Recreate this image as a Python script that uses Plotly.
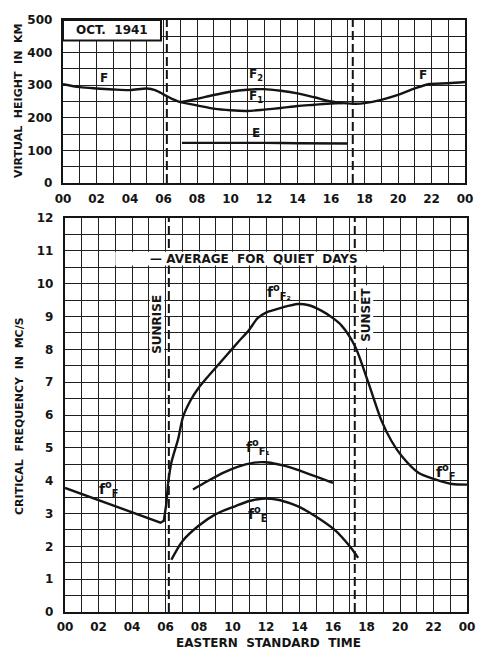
import plotly.graph_objects as go

# ---------------- data ----------------
hour_ticks = list(range(0, 25, 2))
hour_labels = ["00", "02", "04", "06", "08", "10", "12", "14", "16", "18", "20", "22", "00"]
km_ticks = list(range(0, 501, 100))
km_labels = ["0", "100", "200", "300", "400", "500"]
mc_ticks = list(range(0, 13))
mc_labels = [str(v) for v in mc_ticks]

sunrise = 6.2
sunset = 17.3

# virtual heights (km)
f_night_h = [0, 1, 2, 3, 4, 5, 5.5, 6, 6.5, 7]
f_night_km = [303, 294, 290, 287, 285, 290, 285, 272, 258, 248]
f2_h = [7, 8, 9, 10, 11, 12, 13, 14, 15, 16, 16.7]
f2_km = [248, 258, 270, 280, 286, 288, 283, 275, 263, 250, 245]
f1_h = [7, 8, 9, 10, 11, 12, 13, 14, 15, 16, 16.7]
f1_km = [248, 238, 228, 223, 221, 225, 230, 236, 240, 244, 245]
f_eve_h = [16.7, 17.5, 18, 19, 20, 21, 21.8, 23, 24]
f_eve_km = [245, 243, 245, 255, 270, 290, 303, 306, 310]
e_h = [7.1, 10, 12, 14, 17]
e_km = [123, 123, 123, 122, 121]

# critical frequencies (Mc/s)
fof_night_h = [0, 2, 4, 5.7, 5.9, 6.05, 6.15]
fof_night_mc = [3.78, 3.41, 3.04, 2.72, 2.78, 3.3, 3.9]
fof2_h = [6.15, 6.35, 6.75, 7.05, 7.5, 7.94, 8.5, 9.1, 9.7, 10.3, 11, 11.5, 12, 12.5,
          13, 13.9, 14.5, 15.3, 16, 16.5, 17.3, 18.1, 18.9, 19.5, 20.1, 21.1, 22.1, 23.1, 24]
fof2_mc = [3.9, 4.55, 5.26, 5.95, 6.45, 6.8, 7.15, 7.5, 7.85, 8.2, 8.6, 8.95, 9.12, 9.2,
           9.28, 9.38, 9.35, 9.18, 8.95, 8.73, 8.11, 7.0, 5.82, 5.2, 4.75, 4.24, 4.04, 3.9, 3.88]
fof1_h = [7.64, 8.5, 9.5, 10.3, 11.3, 12, 12.7, 13.5, 14.1, 15, 16]
fof1_mc = [3.73, 3.98, 4.25, 4.42, 4.55, 4.56, 4.5, 4.4, 4.29, 4.12, 3.93]
foe_h = [6.35, 7, 7.94, 9, 10.15, 11, 11.75, 12.7, 13.5, 14.1, 15, 16.1, 17, 17.5]
foe_mc = [1.59, 2.15, 2.61, 2.98, 3.22, 3.38, 3.45, 3.42, 3.3, 3.17, 2.9, 2.5, 2.0, 1.65]

# ---------------- figure ----------------
W, H = 477, 652
INK = "#141414"
FONT = "DejaVu Sans"


def px(x):
    return x / W


def py(y):
    return 1 - y / H


fig = go.Figure()

line_style = dict(color=INK, width=2.4, shape="spline", smoothing=0.8)

for xs, ys in [(f_night_h, f_night_km), (f2_h, f2_km), (f1_h, f1_km),
               (f_eve_h, f_eve_km), (e_h, e_km)]:
    fig.add_trace(go.Scatter(x=xs, y=ys, mode="lines", line=line_style,
                             xaxis="x", yaxis="y", showlegend=False, hoverinfo="skip"))

fig.add_trace(go.Scatter(x=fof_night_h, y=fof_night_mc, mode="lines",
                         line=dict(color=INK, width=2.4, shape="linear"),
                         xaxis="x2", yaxis="y2", showlegend=False, hoverinfo="skip"))
for xs, ys in [(fof2_h, fof2_mc), (fof1_h, fof1_mc), (foe_h, foe_mc)]:
    fig.add_trace(go.Scatter(x=xs, y=ys, mode="lines", line=line_style,
                             xaxis="x2", yaxis="y2", showlegend=False, hoverinfo="skip"))

tickfont = dict(family=FONT, size=12, color=INK, weight="bold")
GRID_C = "#202020"
grid = dict(showgrid=True, gridcolor=GRID_C, gridwidth=1.2, zeroline=False,
            showline=True, linecolor=INK, linewidth=2.4, mirror=True, ticks="",
            tickfont=tickfont, fixedrange=True, automargin=False)


def minor(step):
    return dict(tickmode="linear", tick0=0, dtick=step, showgrid=True,
                gridcolor=GRID_C, gridwidth=1.2, ticks="")


fig.update_layout(
    template="none",
    width=W, height=H, margin=dict(l=0, r=0, t=0, b=0, autoexpand=False),
    paper_bgcolor="white", plot_bgcolor="white", showlegend=False,
    font=dict(family=FONT, color=INK),
    xaxis=dict(domain=[px(63), px(465)], range=[0, 24], anchor="y",
               tickmode="array", tickvals=hour_ticks, ticktext=hour_labels,
               ticklabelstandoff=3, minor=minor(1), **grid),
    yaxis=dict(domain=[py(183), py(20)], range=[0, 500], anchor="x",
               tickmode="array", tickvals=km_ticks, ticktext=km_labels,
               ticklabelstandoff=6, minor=minor(50), **grid),
    xaxis2=dict(domain=[px(65), px(467)], range=[0, 24], anchor="y2",
                tickmode="array", tickvals=hour_ticks, ticktext=hour_labels,
                ticklabelstandoff=2, minor=minor(1), **grid),
    yaxis2=dict(domain=[py(612), py(218)], range=[0, 12], anchor="x2",
                tickmode="array", tickvals=mc_ticks, ticktext=mc_labels,
                ticklabelstandoff=7, minor=minor(0.5), **grid),
)

shapes = []
# sunrise / sunset markers
for xr, yr, top in [("x", "y", 500), ("x2", "y2", 12)]:
    for t in (sunrise, sunset):
        shapes.append(dict(type="line", xref=xr, yref=yr, x0=t, x1=t, y0=0, y1=top,
                           line=dict(color=INK, width=2, dash="9px,4px"), layer="above"))
# white label boxes
shapes.append(dict(type="rect", xref="x", yref="y", x0=0, x1=5.85, y0=437, y1=500,
                   fillcolor="white", line=dict(color=INK, width=2), layer="above"))
shapes.append(dict(type="rect", xref="x2", yref="y2", x0=3.0, x1=19.2, y0=10.55, y1=10.97,
                   fillcolor="white", line=dict(width=0), layer="above"))
shapes.append(dict(type="rect", xref="x2", yref="y2", x0=5.08, x1=5.92, y0=7.55, y1=9.95,
                   fillcolor="white", line=dict(width=0), layer="above"))
shapes.append(dict(type="rect", xref="x2", yref="y2", x0=17.55, x1=18.4, y0=8.05, y1=9.95,
                   fillcolor="white", line=dict(width=0), layer="above"))
fig.update_layout(shapes=shapes)

lab = dict(family=FONT, size=12, color=INK, weight="bold")
big = dict(family=FONT, size=14, color=INK, weight="bold")
ann = []


def note(text, x, y, xr, yr, font=lab, angle=0, anchor="center"):
    ann.append(dict(text=text, x=x, y=y, xref=xr, yref=yr, showarrow=False,
                    font=font, textangle=angle, xanchor=anchor, yanchor="middle"))


note("OCT.  1941", 2.9, 470, "x", "y", font=dict(family=FONT, size=12, color=INK, weight="bold"))
note("F", 2.45, 322, "x", "y")
note("F<sub>2</sub>", 11.5, 331, "x", "y")
note("F<sub>1</sub>", 11.55, 264, "x", "y")
note("E", 11.5, 153, "x", "y")
note("F", 21.5, 331, "x", "y")

note("— AVERAGE  FOR  QUIET  DAYS", 11.3, 10.75, "x2", "y2")
note("SUNRISE", 5.5, 8.75, "x2", "y2", angle=-90)
note("SUNSET", 17.97, 9.05, "x2", "y2", angle=-90)
note("f<sup>o</sup><sub>F₂</sub>", 12.8, 9.75, "x2", "y2", font=big)
note("f<sup>o</sup><sub>F₁</sub>", 11.5, 5.03, "x2", "y2", font=big)
note("f<sup>o</sup><sub>E</sub>", 11.5, 2.98, "x2", "y2", font=big)
note("f<sup>o</sup><sub>F</sub>", 2.6, 3.75, "x2", "y2", font=big)
note("f<sup>o</sup><sub>F</sub>", 22.75, 4.26, "x2", "y2", font=big)

note("VIRTUAL  HEIGHT  IN  KM", px(18), py(101), "paper", "paper",
     font=dict(family=FONT, size=11, color=INK, weight="bold"), angle=-90)
note("CRITICAL  FREQUENCY  IN  MC/S", px(19), py(416), "paper", "paper",
     font=dict(family=FONT, size=11, color=INK, weight="bold"), angle=-90)
note("EASTERN  STANDARD  TIME", px(268), py(643), "paper", "paper",
     font=dict(family=FONT, size=12, color=INK, weight="bold"))

fig.update_layout(annotations=ann)

fig.write_html("out.html", config={"displayModeBar": False},
               post_script="document.body.style.margin='0';document.body.style.overflow='hidden';")
